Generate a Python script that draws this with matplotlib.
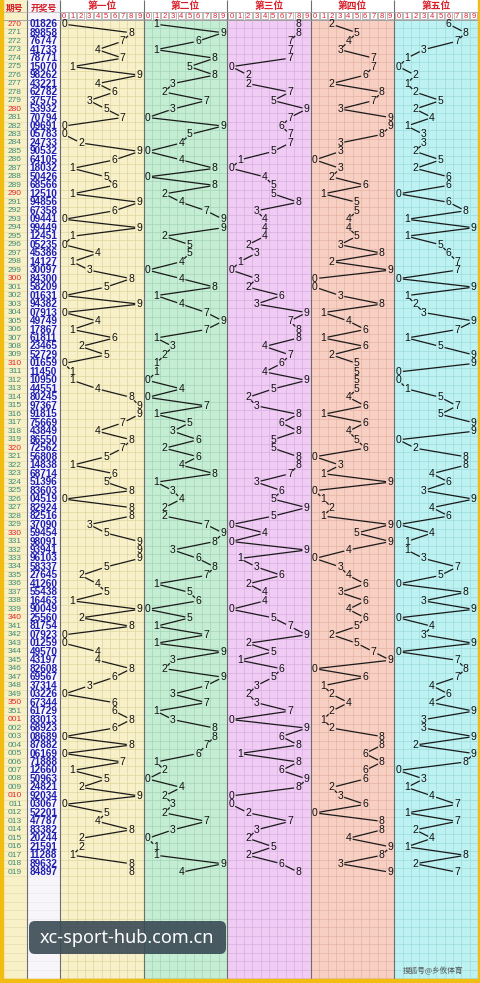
import matplotlib
matplotlib.use('Agg')
import matplotlib.pyplot as plt
from matplotlib.patches import Rectangle, FancyBboxPatch

plt.rcParams['font.family'] = ['Liberation Sans', 'Noto Sans CJK SC', 'DejaVu Sans']

# period labels and drawn numbers
periods = [str(n) for n in range(270, 352)] + ['%03d' % n for n in range(1, 20)]
draws = ['01826', '89858', '76747', '41733', '78771', '15070', '98262', '43221', '62782', '37575',
         '53932', '70794', '09691', '05783', '24733', '90532', '64105', '18032', '50426', '68566',
         '12510', '94856', '67358', '09441', '99449', '12451', '05235', '45386', '14127', '30097',
         '84300', '58209', '01631', '94382', '07913', '49749', '17867', '61811', '23465', '52729',
         '01659', '11450', '10950', '44551', '80245', '97367', '91815', '75669', '43849', '86550',
         '72562', '56808', '14838', '68714', '51396', '83603', '04519', '82924', '82516', '37090',
         '59454', '98091', '93941', '96103', '58337', '27645', '41260', '55438', '16463', '90049',
         '25560', '81754', '07923', '01259', '49570', '43197', '82608', '69567', '37314', '03226',
         '67344', '61729',
         '83013', '68923', '08689', '87882', '06169', '71888', '12660', '50963', '24821', '92034',
         '03067', '52201', '47787', '83382', '20244', '21591', '11288', '89632', '84897']
titles = ['第一位', '第二位', '第三位', '第四位', '第五位']
panel_bg = ['#f7f0c9', '#c4edd3', '#f0cbf4', '#f7cfc3', '#bef1f1']
panel_grid = ['#e0d5a0', '#a3d7b6', '#d9afe0', '#e4b4a5', '#9cdcdc']

W, H = 481, 983
fig = plt.figure(figsize=(W / 100, H / 100), dpi=100)
ax = fig.add_axes([0, 0, 1, 1])
ax.set_xlim(0, W)
ax.set_ylim(H, 0)
ax.axis('off')

top = 20.0
row_h = 8.48
bottom = 979
px0, pw = 60.0, 83.6
cw = pw / 10

# backgrounds
ax.add_patch(Rectangle((0, 0), W, H, color='white', zorder=0))
ax.add_patch(Rectangle((3, 0), 24, bottom, color='#f8f0c6', zorder=0))
ax.add_patch(Rectangle((27, 0), 33, bottom, color='#f7f4fa', zorder=0))
for p in range(5):
    x0 = px0 + p * pw
    ax.add_patch(Rectangle((x0, top), pw, bottom - top, color=panel_bg[p], zorder=0))
    # grid
    nrows = int((bottom - top) / row_h) + 1
    ys = [top + k * row_h for k in range(nrows)]
    ax.hlines(ys, x0, x0 + pw, colors=panel_grid[p], lw=0.5, zorder=1)
    ax.vlines([x0 + k * cw for k in range(1, 10)], top, bottom, colors=panel_grid[p], lw=0.5, zorder=1)
    # header
    ax.text(x0 + pw / 2, 6.2, titles[p], color='#d81e28', fontsize=7, fontweight='bold',
            ha='center', va='center', family=['Noto Sans CJK SC', 'DejaVu Sans'])
    for d in range(10):
        ax.add_patch(Rectangle((x0 + d * cw + 0.6, 12.3), cw - 1.2, 7.2, facecolor='white',
                               edgecolor='#a0a0a0', lw=0.5, zorder=2))
        ax.text(x0 + (d + 0.5) * cw, 16, str(d), color='#e0202a', fontsize=5.5,
                ha='center', va='center', zorder=3)

# row lines in label columns
nrows = int((bottom - top) / row_h) + 1
ax.hlines([top + k * row_h for k in range(nrows)], 3, 27, colors='#e6dca8', lw=0.4, zorder=1)
ax.hlines([top + k * row_h for k in range(nrows)], 27, 60, colors='#e8e4ee', lw=0.4, zorder=1)

# separators
ax.vlines([27, 60] + [px0 + p * pw for p in range(1, 5)], 0, bottom, colors='#6e6e6e', lw=0.8, zorder=4)
ax.hlines([11.5], 3, 478, colors='#b0b0b0', lw=0.5, zorder=4)
ax.hlines([top], 3, 478, colors='#9a9a9a', lw=0.6, zorder=4)

ax.text(15, 8, '期号', color='#d81e28', fontsize=6.3, fontweight='bold', ha='center', va='center',
        family=['Noto Sans CJK SC', 'DejaVu Sans'])
ax.text(43.5, 8, '开奖号', color='#d81e28', fontsize=6.3, fontweight='bold', ha='center', va='center',
        family=['Noto Sans CJK SC', 'DejaVu Sans'])

# rows
for i, (per, num) in enumerate(zip(periods, draws)):
    yc = top + (i + 0.5) * row_h
    red = int(per) % 10 == 0 or per == '001'
    ax.text(15, yc, per, color='#e02828' if red else '#3d8c74', fontsize=6,
            ha='center', va='center', zorder=5)
    ax.text(43.5, yc, num, color='#1e1eb0', fontsize=7.2, fontweight='bold',
            ha='center', va='center', zorder=5)
    for p in range(5):
        d = int(num[p])
        ax.text(px0 + p * pw + (d + 0.5) * cw, yc, str(d), color='#111111', fontsize=7.5,
                ha='center', va='center', zorder=6)

# connecting lines
r = 4.3
for p in range(5):
    for i in range(len(draws) - 1):
        d1, d2 = int(draws[i][p]), int(draws[i + 1][p])
        if d1 == d2:
            continue
        x1 = px0 + p * pw + (d1 + 0.5) * cw
        x2 = px0 + p * pw + (d2 + 0.5) * cw
        y1 = top + (i + 0.5) * row_h
        y2 = y1 + row_h
        dx, dy = x2 - x1, y2 - y1
        L = (dx ** 2 + dy ** 2) ** 0.5
        if L <= 2 * r + 0.5:
            continue
        ux, uy = dx / L, dy / L
        ax.plot([x1 + ux * r, x2 - ux * r], [y1 + uy * r, y2 - uy * r], color='#1a1a1a',
                lw=0.9, zorder=5, solid_capstyle='butt')

# outer border
ax.add_patch(Rectangle((0, 0), 3, H, color='#f2bd12', zorder=7))
ax.add_patch(Rectangle((478, 0), 3, H, color='#f2bd12', zorder=7))
ax.add_patch(Rectangle((0, bottom), W, H - bottom, color='#f2bd12', zorder=7))

# watermarks
ax.add_patch(FancyBboxPatch((29, 921), 197, 33, boxstyle='round,pad=0,rounding_size=6',
                            facecolor='#3a4a55', edgecolor='none', alpha=0.9, zorder=8))
ax.text(127, 938, 'xc-sport-hub.com.cn', color='white', fontsize=13, ha='center', va='center',
        family=['Noto Sans', 'DejaVu Sans'], zorder=9)
ax.text(433, 971, '搜狐号@乡攸体育', color='#555555', fontsize=5.5, ha='center', va='center',
        family=['Noto Sans CJK SC', 'DejaVu Sans'], zorder=9)

fig.savefig('out.png', dpi=100)
